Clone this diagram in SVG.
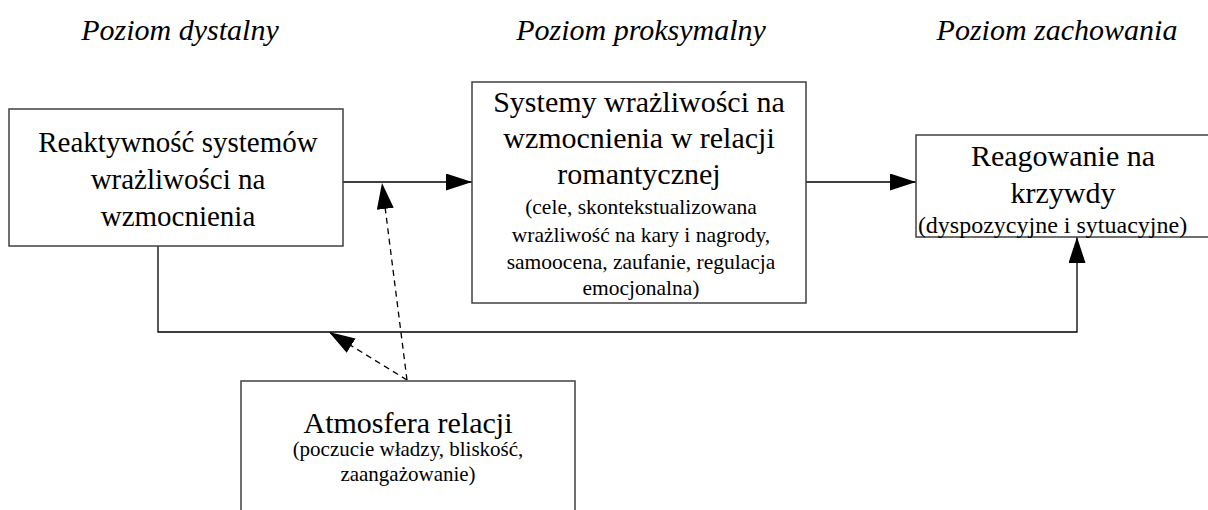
<svg xmlns="http://www.w3.org/2000/svg" width="1208" height="510" viewBox="0 0 1208 510">
<style>
  .box { fill: #ffffff; stroke: #404040; stroke-width: 1.5; }
  text { font-family: 'Liberation Serif', 'DejaVu Serif', serif; fill: #000000; text-anchor: middle; }
  .hdr { font-style: italic; font-size: 30px; }
  .main { font-size: 30px; }
  .sub { font-size: 21.5px; }
  .conn { fill: none; stroke: #000000; stroke-width: 1.3; }
  .dash { stroke-dasharray: 6 4.5; }
</style>
<defs>
  <marker id="arrow" markerUnits="userSpaceOnUse" markerWidth="28" markerHeight="18" refX="26" refY="8.5" orient="auto">
    <path d="M0,0 L26,8.5 L0,17 Z" fill="#000000"/>
  </marker>
</defs>
<rect width="1208" height="510" fill="#ffffff"/>

<g id="headers">
  <text class="hdr" x="180" y="40">Poziom dystalny</text>
  <text class="hdr" x="641" y="40">Poziom proksymalny</text>
  <text class="hdr" x="1057" y="40">Poziom zachowania</text>
</g>

<g id="connectors">
  <line class="conn" x1="343" y1="182" x2="472" y2="182" marker-end="url(#arrow)"/>
  <line class="conn" x1="806" y1="182" x2="916" y2="182" marker-end="url(#arrow)"/>
  <polyline class="conn" points="158,246 158,332 1077,332 1077,237" marker-end="url(#arrow)"/>
  <line class="conn dash" x1="407" y1="380" x2="382" y2="183" marker-end="url(#arrow)"/>
  <line class="conn dash" x1="407" y1="380" x2="329" y2="332" marker-end="url(#arrow)"/>
</g>

<g id="node-reaktywnosc">
  <rect class="box" x="9" y="109" width="334" height="137"/>
  <text class="main" x="178" y="152" style="font-size:29px">Reaktywność systemów</text>
  <text class="main" x="178" y="189" style="font-size:29px">wrażliwości na</text>
  <text class="main" x="178" y="226" style="font-size:29px">wzmocnienia</text>
</g>

<g id="node-systemy">
  <rect class="box" x="472" y="82" width="334" height="221"/>
  <text class="main" x="639" y="112">Systemy wrażliwości na</text>
  <text class="main" x="639" y="148">wzmocnienia w relacji</text>
  <text class="main" x="639" y="184">romantycznej</text>
  <text class="sub" x="641" y="214">(cele, skontekstualizowana</text>
  <text class="sub" x="641" y="242">wrażliwość na kary i nagrody,</text>
  <text class="sub" x="641" y="269">samoocena, zaufanie, regulacja</text>
  <text class="sub" x="641" y="295">emocjonalna)</text>
</g>

<g id="node-reagowanie">
  <rect class="box" x="916" y="135" width="300" height="102"/>
  <text class="main" x="1063" y="166">Reagowanie na</text>
  <text class="main" x="1063" y="203">krzywdy</text>
  <text class="sub" x="1052.5" y="233" style="font-size:24px">(dyspozycyjne i sytuacyjne)</text>
</g>

<g id="node-atmosfera">
  <rect class="box" x="241" y="381" width="334" height="140"/>
  <text class="main" x="408" y="433">Atmosfera relacji</text>
  <text class="sub" x="408" y="456" style="font-size:21px">(poczucie władzy, bliskość,</text>
  <text class="sub" x="408" y="481" style="font-size:21px">zaangażowanie)</text>
</g>
</svg>
